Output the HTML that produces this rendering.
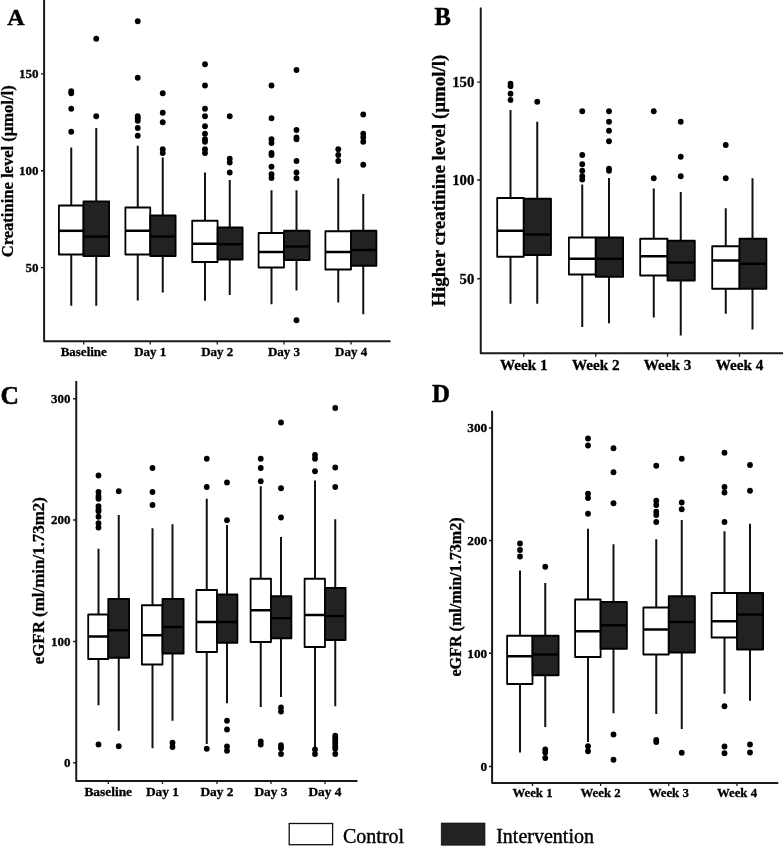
<!DOCTYPE html>
<html lang="en"><head><meta charset="utf-8"><title>Figure</title>
<style>
html,body{margin:0;padding:0;background:#fff;}
body{width:783px;height:847px;overflow:hidden;}
svg{display:block;}
text{font-family:"Liberation Serif","Times New Roman",Times,serif;fill:#000;}
.b{stroke:#000;stroke-width:0.3px;}
.b{font-weight:bold;}
.ax{stroke:#1a1a1a;stroke-width:2.0;fill:none;stroke-linecap:butt;}
.wh{stroke:#111;stroke-width:2.0;fill:none;}
.bx{stroke:#000;stroke-width:1.8;stroke-linejoin:round;}
.md{stroke:#000;stroke-width:2.5;}
.pt{fill:#000;}
</style></head><body>
<svg width="783" height="847" viewBox="0 0 783 847">
<rect width="783" height="847" fill="#fff"/>

<g id="panelA">
<path class="ax" d="M44.1 0V341.3H390.5" style="stroke-linejoin:round"/>
<path class="ax" d="M41 73.8H44.1M41 170.75H44.1M41 267.6H44.1M83.75 341.3V344.4M150.25 341.3V344.4M217.25 341.3V344.4M284 341.3V344.4M351.1 341.3V344.4" style="stroke-width:1.3"/>
<text class="b" x="38.6" y="78.16" font-size="13" text-anchor="end">150</text>
<text class="b" x="38.6" y="175.1" font-size="13" text-anchor="end">100</text>
<text class="b" x="38.6" y="271.96" font-size="13" text-anchor="end">50</text>
<text class="b" x="83.75" y="356.3" font-size="13" text-anchor="middle">Baseline</text>
<text class="b" x="150.25" y="356.3" font-size="13" text-anchor="middle">Day 1</text>
<text class="b" x="217.25" y="356.3" font-size="13" text-anchor="middle">Day 2</text>
<text class="b" x="284" y="356.3" font-size="13" text-anchor="middle">Day 3</text>
<text class="b" x="351.1" y="356.3" font-size="13" text-anchor="middle">Day 4</text>
<text class="b" font-size="16.5" text-anchor="middle" transform="translate(12.7 171.3) rotate(-90) scale(1.004 1)">Creatinine level (µmol/l)</text>
<text class="b" x="7.2" y="24.9" font-size="24" style="stroke-width:0.5px">A</text>
<path class="wh" d="M71.25 147.5V205.5M71.25 254.5V305.75"/>
<rect class="bx" x="58.9" y="205.5" width="24.6" height="49" fill="#fff"/>
<path class="md" d="M58.9 230.8H83.5"/>
<circle class="pt" cx="71.25" cy="91.25" r="2.9"/>
<circle class="pt" cx="71.25" cy="93.25" r="2.9"/>
<circle class="pt" cx="71.25" cy="108.75" r="2.9"/>
<circle class="pt" cx="71.25" cy="131.75" r="2.9"/>
<path class="wh" d="M96.25 128V201.3M96.25 256.2V305.75"/>
<rect class="bx" x="83.5" y="201.3" width="25.6" height="54.9" fill="#222222"/>
<path class="md" d="M83.5 236.6H109.1"/>
<circle class="pt" cx="96.25" cy="38.75" r="2.9"/>
<circle class="pt" cx="96.25" cy="116.25" r="2.9"/>
<path class="wh" d="M137.75 145.75V207.5M137.75 254.5V300.5"/>
<rect class="bx" x="125.4" y="207.5" width="24.85" height="47" fill="#fff"/>
<path class="md" d="M125.4 230.75H150.25"/>
<circle class="pt" cx="137.75" cy="21.25" r="2.9"/>
<circle class="pt" cx="137.75" cy="77.75" r="2.9"/>
<circle class="pt" cx="137.75" cy="116.25" r="2.9"/>
<circle class="pt" cx="137.75" cy="118.25" r="2.9"/>
<circle class="pt" cx="137.75" cy="120.75" r="2.9"/>
<circle class="pt" cx="137.75" cy="128" r="2.9"/>
<circle class="pt" cx="137.75" cy="135.75" r="2.9"/>
<path class="wh" d="M162.75 157.5V215.5M162.75 256V292.5"/>
<rect class="bx" x="150.25" y="215.5" width="25.35" height="40.5" fill="#222222"/>
<path class="md" d="M150.25 236.5H175.6"/>
<circle class="pt" cx="162.75" cy="93.25" r="2.9"/>
<circle class="pt" cx="162.75" cy="112.75" r="2.9"/>
<circle class="pt" cx="162.75" cy="122.25" r="2.9"/>
<circle class="pt" cx="162.75" cy="149.25" r="2.9"/>
<circle class="pt" cx="162.75" cy="153" r="2.9"/>
<path class="wh" d="M205 172.5V220.75M205 262V300.75"/>
<rect class="bx" x="192.2" y="220.75" width="25.4" height="41.25" fill="#fff"/>
<path class="md" d="M192.2 243.75H217.6"/>
<circle class="pt" cx="205" cy="64.25" r="2.9"/>
<circle class="pt" cx="205" cy="85.5" r="2.9"/>
<circle class="pt" cx="205" cy="108.75" r="2.9"/>
<circle class="pt" cx="205" cy="116.25" r="2.9"/>
<circle class="pt" cx="205" cy="126.25" r="2.9"/>
<circle class="pt" cx="205" cy="133.75" r="2.9"/>
<circle class="pt" cx="205" cy="139.25" r="2.9"/>
<circle class="pt" cx="205" cy="141.75" r="2.9"/>
<circle class="pt" cx="205" cy="149.25" r="2.9"/>
<circle class="pt" cx="205" cy="153" r="2.9"/>
<path class="wh" d="M229.75 180V227.5M229.75 259.5V295"/>
<rect class="bx" x="217.6" y="227.5" width="25" height="32" fill="#222222"/>
<path class="md" d="M217.6 244.25H242.6"/>
<circle class="pt" cx="229.75" cy="116.25" r="2.9"/>
<circle class="pt" cx="229.75" cy="158.75" r="2.9"/>
<circle class="pt" cx="229.75" cy="162.5" r="2.9"/>
<circle class="pt" cx="229.75" cy="172.5" r="2.9"/>
<path class="wh" d="M271.5 190.25V233M271.5 267.5V304.25"/>
<rect class="bx" x="258.6" y="233" width="25.4" height="34.5" fill="#fff"/>
<path class="md" d="M258.6 252H284"/>
<circle class="pt" cx="271.5" cy="85.5" r="2.9"/>
<circle class="pt" cx="271.5" cy="118.25" r="2.9"/>
<circle class="pt" cx="271.5" cy="139.25" r="2.9"/>
<circle class="pt" cx="271.5" cy="143" r="2.9"/>
<circle class="pt" cx="271.5" cy="153" r="2.9"/>
<circle class="pt" cx="271.5" cy="155" r="2.9"/>
<circle class="pt" cx="271.5" cy="166.75" r="2.9"/>
<circle class="pt" cx="271.5" cy="174.25" r="2.9"/>
<circle class="pt" cx="271.5" cy="178" r="2.9"/>
<path class="wh" d="M296.5 190.25V230.75M296.5 260V290.5"/>
<rect class="bx" x="284" y="230.75" width="25.6" height="29.25" fill="#222222"/>
<path class="md" d="M284 246.5H309.6"/>
<circle class="pt" cx="296.5" cy="70" r="2.9"/>
<circle class="pt" cx="296.5" cy="130" r="2.9"/>
<circle class="pt" cx="296.5" cy="137.5" r="2.9"/>
<circle class="pt" cx="296.5" cy="139.25" r="2.9"/>
<circle class="pt" cx="296.5" cy="161" r="2.9"/>
<circle class="pt" cx="296.5" cy="172.5" r="2.9"/>
<circle class="pt" cx="296.5" cy="178.25" r="2.9"/>
<circle class="pt" cx="296.5" cy="320.25" r="2.9"/>
<path class="wh" d="M338.25 178.25V231.25M338.25 269.5V302.5"/>
<rect class="bx" x="325.4" y="231.25" width="25.6" height="38.25" fill="#fff"/>
<path class="md" d="M325.4 252H351"/>
<circle class="pt" cx="338.25" cy="149.25" r="2.9"/>
<circle class="pt" cx="338.25" cy="155" r="2.9"/>
<circle class="pt" cx="338.25" cy="161" r="2.9"/>
<path class="wh" d="M363.25 194V230.75M363.25 265.75V314.25"/>
<rect class="bx" x="351" y="230.75" width="25.4" height="35" fill="#222222"/>
<path class="md" d="M351 250H376.4"/>
<circle class="pt" cx="363.25" cy="114.5" r="2.9"/>
<circle class="pt" cx="363.25" cy="133.75" r="2.9"/>
<circle class="pt" cx="363.25" cy="137.5" r="2.9"/>
<circle class="pt" cx="363.25" cy="141.75" r="2.9"/>
<circle class="pt" cx="363.25" cy="164.75" r="2.9"/>
</g>
<g id="panelB">
<path class="ax" d="M480.75 7.5V353.2H783" style="stroke-linejoin:round"/>
<path class="ax" d="M477.25 82.1H480.75M477.25 180H480.75M477.25 278.75H480.75M523.75 353.2V356.7M595.75 353.2V356.7M667.5 353.2V356.7M739.5 353.2V356.7" style="stroke-width:1.3"/>
<text class="b" x="474.3" y="87.02" font-size="14.7" text-anchor="end">150</text>
<text class="b" x="474.3" y="184.92" font-size="14.7" text-anchor="end">100</text>
<text class="b" x="474.3" y="283.67" font-size="14.7" text-anchor="end">50</text>
<text class="b" x="523.75" y="370.3" font-size="15.2" text-anchor="middle">Week 1</text>
<text class="b" x="595.75" y="370.3" font-size="15.2" text-anchor="middle">Week 2</text>
<text class="b" x="667.5" y="370.3" font-size="15.2" text-anchor="middle">Week 3</text>
<text class="b" x="739.5" y="370.3" font-size="15.2" text-anchor="middle">Week 4</text>
<text class="b" font-size="18" text-anchor="middle" transform="translate(444.5 180.65) rotate(-90) scale(1.049 1)">Higher creatinine level (µmol/l)</text>
<text class="b" x="434.4" y="24.8" font-size="24.5" style="stroke-width:0.5px">B</text>
<path class="wh" d="M510.5 110V198M510.5 256.75V303.75"/>
<rect class="bx" x="497.2" y="198" width="26.55" height="58.75" fill="#fff"/>
<path class="md" d="M497.2 230.75H523.75"/>
<circle class="pt" cx="510.5" cy="83.75" r="2.9"/>
<circle class="pt" cx="510.5" cy="86.25" r="2.9"/>
<circle class="pt" cx="510.5" cy="93.75" r="2.9"/>
<circle class="pt" cx="510.5" cy="100" r="2.9"/>
<path class="wh" d="M537.25 121.75V198.75M537.25 255V303.75"/>
<rect class="bx" x="523.75" y="198.75" width="27.25" height="56.25" fill="#222222"/>
<path class="md" d="M523.75 234.5H551"/>
<circle class="pt" cx="537.25" cy="101.75" r="2.9"/>
<path class="wh" d="M582.25 184.5V237.5M582.25 274.5V327"/>
<rect class="bx" x="568.9" y="237.5" width="26.85" height="37" fill="#fff"/>
<path class="md" d="M568.9 258.75H595.75"/>
<circle class="pt" cx="582.25" cy="111.25" r="2.9"/>
<circle class="pt" cx="582.25" cy="155" r="2.9"/>
<circle class="pt" cx="582.25" cy="164.25" r="2.9"/>
<circle class="pt" cx="582.25" cy="170.75" r="2.9"/>
<circle class="pt" cx="582.25" cy="176.25" r="2.9"/>
<circle class="pt" cx="582.25" cy="179.5" r="2.9"/>
<path class="wh" d="M609 178V237.5M609 276.75V323.25"/>
<rect class="bx" x="595.75" y="237.5" width="27.35" height="39.25" fill="#222222"/>
<path class="md" d="M595.75 258.75H623.1"/>
<circle class="pt" cx="609" cy="111.25" r="2.9"/>
<circle class="pt" cx="609" cy="121.75" r="2.9"/>
<circle class="pt" cx="609" cy="130.75" r="2.9"/>
<circle class="pt" cx="609" cy="141.25" r="2.9"/>
<circle class="pt" cx="609" cy="168.75" r="2.9"/>
<circle class="pt" cx="609" cy="170.75" r="2.9"/>
<path class="wh" d="M653.75 188.5V238.75M653.75 275.5V317.5"/>
<rect class="bx" x="640.2" y="238.75" width="27.3" height="36.75" fill="#fff"/>
<path class="md" d="M640.2 256.25H667.5"/>
<circle class="pt" cx="653.75" cy="111.25" r="2.9"/>
<circle class="pt" cx="653.75" cy="178.25" r="2.9"/>
<path class="wh" d="M680.75 192V240.75M680.75 280.5V335.5"/>
<rect class="bx" x="667.5" y="240.75" width="27.3" height="39.75" fill="#222222"/>
<path class="md" d="M667.5 262.5H694.8"/>
<circle class="pt" cx="680.75" cy="121.75" r="2.9"/>
<circle class="pt" cx="680.75" cy="156.75" r="2.9"/>
<circle class="pt" cx="680.75" cy="176.25" r="2.9"/>
<path class="wh" d="M725.75 208.25V246.25M725.75 288.75V313.75"/>
<rect class="bx" x="712.2" y="246.25" width="27.3" height="42.5" fill="#fff"/>
<path class="md" d="M712.2 260.5H739.5"/>
<circle class="pt" cx="725.75" cy="145" r="2.9"/>
<circle class="pt" cx="725.75" cy="178.25" r="2.9"/>
<path class="wh" d="M752.5 178.25V238.75M752.5 288.75V329.5"/>
<rect class="bx" x="739.5" y="238.75" width="26.9" height="50" fill="#222222"/>
<path class="md" d="M739.5 263.75H766.4"/>
</g>
<g id="panelC">
<path class="ax" d="M76.25 381V780.9H357.5" style="stroke-linejoin:round"/>
<path class="ax" d="M73.15 398.75H76.25M73.15 520H76.25M73.15 641.5H76.25M73.15 762.75H76.25M108.25 780.9V784M162.5 780.9V784M217 780.9V784M271 780.9V784M325 780.9V784" style="stroke-width:1.3"/>
<text class="b" x="70.6" y="403.11" font-size="13" text-anchor="end">300</text>
<text class="b" x="70.6" y="524.36" font-size="13" text-anchor="end">200</text>
<text class="b" x="70.6" y="645.86" font-size="13" text-anchor="end">100</text>
<text class="b" x="70.6" y="767.11" font-size="13" text-anchor="end">0</text>
<text class="b" x="108.25" y="795.9" font-size="13.4" text-anchor="middle">Baseline</text>
<text class="b" x="162.5" y="795.9" font-size="13.4" text-anchor="middle">Day 1</text>
<text class="b" x="217" y="795.9" font-size="13.4" text-anchor="middle">Day 2</text>
<text class="b" x="271" y="795.9" font-size="13.4" text-anchor="middle">Day 3</text>
<text class="b" x="325" y="795.9" font-size="13.4" text-anchor="middle">Day 4</text>
<text class="b" font-size="16.2" text-anchor="middle" transform="translate(43.7 580.75) rotate(-90) scale(1.045 1)">eGFR (ml/min/1.73m2)</text>
<text class="b" x="0.4" y="404.4" font-size="25.5" style="stroke-width:0.5px">C</text>
<path class="wh" d="M98.5 548.75V614.5M98.5 659V705.25"/>
<rect class="bx" x="88.2" y="614.5" width="20.05" height="44.5" fill="#fff"/>
<path class="md" d="M88.2 636.5H108.25"/>
<circle class="pt" cx="98.5" cy="475.5" r="2.9"/>
<circle class="pt" cx="98.5" cy="492" r="2.9"/>
<circle class="pt" cx="98.5" cy="496.25" r="2.9"/>
<circle class="pt" cx="98.5" cy="498.75" r="2.9"/>
<circle class="pt" cx="98.5" cy="506.25" r="2.9"/>
<circle class="pt" cx="98.5" cy="509.25" r="2.9"/>
<circle class="pt" cx="98.5" cy="511.25" r="2.9"/>
<circle class="pt" cx="98.5" cy="516.75" r="2.9"/>
<circle class="pt" cx="98.5" cy="523.25" r="2.9"/>
<circle class="pt" cx="98.5" cy="527.5" r="2.9"/>
<circle class="pt" cx="98.5" cy="744.5" r="2.9"/>
<path class="wh" d="M118.75 515V599M118.75 657.75V730.75"/>
<rect class="bx" x="108.25" y="599" width="20.85" height="58.75" fill="#222222"/>
<path class="md" d="M108.25 630.25H129.1"/>
<circle class="pt" cx="118.75" cy="491.25" r="2.9"/>
<circle class="pt" cx="118.75" cy="746.25" r="2.9"/>
<path class="wh" d="M152.5 528.25V605.25M152.5 664.5V748.25"/>
<rect class="bx" x="141.9" y="605.25" width="20.6" height="59.25" fill="#fff"/>
<path class="md" d="M141.9 635.25H162.5"/>
<circle class="pt" cx="152.5" cy="468" r="2.9"/>
<circle class="pt" cx="152.5" cy="492" r="2.9"/>
<circle class="pt" cx="152.5" cy="505" r="2.9"/>
<path class="wh" d="M172.5 524.25V599M172.5 653.5V720.75"/>
<rect class="bx" x="162.5" y="599" width="21.1" height="54.5" fill="#222222"/>
<path class="md" d="M162.5 627H183.6"/>
<circle class="pt" cx="172.5" cy="742.75" r="2.9"/>
<circle class="pt" cx="172.5" cy="747" r="2.9"/>
<path class="wh" d="M206.75 498.75V590M206.75 652V744"/>
<rect class="bx" x="196.4" y="590" width="20.6" height="62" fill="#fff"/>
<path class="md" d="M196.4 622H217"/>
<circle class="pt" cx="206.75" cy="458.75" r="2.9"/>
<circle class="pt" cx="206.75" cy="487" r="2.9"/>
<circle class="pt" cx="206.75" cy="748.75" r="2.9"/>
<path class="wh" d="M227 525V594.5M227 642.75V703.25"/>
<rect class="bx" x="217" y="594.5" width="20.4" height="48.25" fill="#222222"/>
<path class="md" d="M217 622H237.4"/>
<circle class="pt" cx="227" cy="482.5" r="2.9"/>
<circle class="pt" cx="227" cy="520.25" r="2.9"/>
<circle class="pt" cx="227" cy="720.75" r="2.9"/>
<circle class="pt" cx="227" cy="729.5" r="2.9"/>
<circle class="pt" cx="227" cy="746.5" r="2.9"/>
<circle class="pt" cx="227" cy="750.75" r="2.9"/>
<path class="wh" d="M260.75 486.25V578.75M260.75 642V707"/>
<rect class="bx" x="250.6" y="578.75" width="20.4" height="63.25" fill="#fff"/>
<path class="md" d="M250.6 610.25H271"/>
<circle class="pt" cx="260.75" cy="458.75" r="2.9"/>
<circle class="pt" cx="260.75" cy="468" r="2.9"/>
<circle class="pt" cx="260.75" cy="481.25" r="2.9"/>
<circle class="pt" cx="260.75" cy="741.5" r="2.9"/>
<circle class="pt" cx="260.75" cy="744.5" r="2.9"/>
<path class="wh" d="M281 537V596.25M281 638.25V697"/>
<rect class="bx" x="271" y="596.25" width="20.4" height="42" fill="#222222"/>
<path class="md" d="M271 618.25H291.4"/>
<circle class="pt" cx="281" cy="422.5" r="2.9"/>
<circle class="pt" cx="281" cy="488.25" r="2.9"/>
<circle class="pt" cx="281" cy="517.5" r="2.9"/>
<circle class="pt" cx="281" cy="707.5" r="2.9"/>
<circle class="pt" cx="281" cy="711.5" r="2.9"/>
<circle class="pt" cx="281" cy="745.25" r="2.9"/>
<circle class="pt" cx="281" cy="748.25" r="2.9"/>
<circle class="pt" cx="281" cy="754" r="2.9"/>
<path class="wh" d="M315 480.5V578.75M315 647V747"/>
<rect class="bx" x="304.6" y="578.75" width="20.4" height="68.25" fill="#fff"/>
<path class="md" d="M304.6 615H325"/>
<circle class="pt" cx="315" cy="455" r="2.9"/>
<circle class="pt" cx="315" cy="458.75" r="2.9"/>
<circle class="pt" cx="315" cy="471.25" r="2.9"/>
<circle class="pt" cx="315" cy="749.5" r="2.9"/>
<circle class="pt" cx="315" cy="754" r="2.9"/>
<path class="wh" d="M335.25 519.25V588M335.25 640V706.25"/>
<rect class="bx" x="325" y="588" width="20.6" height="52" fill="#222222"/>
<path class="md" d="M325 616H345.6"/>
<circle class="pt" cx="335.25" cy="408" r="2.9"/>
<circle class="pt" cx="335.25" cy="467.5" r="2.9"/>
<circle class="pt" cx="335.25" cy="487" r="2.9"/>
<circle class="pt" cx="335.25" cy="735.75" r="2.9"/>
<circle class="pt" cx="335.25" cy="738.25" r="2.9"/>
<circle class="pt" cx="335.25" cy="740.75" r="2.9"/>
<circle class="pt" cx="335.25" cy="743.25" r="2.9"/>
<circle class="pt" cx="335.25" cy="746.25" r="2.9"/>
<circle class="pt" cx="335.25" cy="748.75" r="2.9"/>
<circle class="pt" cx="335.25" cy="754" r="2.9"/>
</g>
<g id="panelD">
<path class="ax" d="M492.1 410.75V782.9H778.25" style="stroke-linejoin:round"/>
<path class="ax" d="M489 428H492.1M489 540.5H492.1M489 653.25H492.1M489 766.5H492.1M532.5 782.9V786M600.6 782.9V786M668.75 782.9V786M737 782.9V786" style="stroke-width:1.3"/>
<text class="b" x="487.2" y="432.46" font-size="13.3" text-anchor="end">300</text>
<text class="b" x="487.2" y="544.96" font-size="13.3" text-anchor="end">200</text>
<text class="b" x="487.2" y="657.71" font-size="13.3" text-anchor="end">100</text>
<text class="b" x="487.2" y="770.96" font-size="13.3" text-anchor="end">0</text>
<text class="b" x="532.5" y="797.4" font-size="12.8" text-anchor="middle">Week 1</text>
<text class="b" x="600.6" y="797.4" font-size="12.8" text-anchor="middle">Week 2</text>
<text class="b" x="668.75" y="797.4" font-size="12.8" text-anchor="middle">Week 3</text>
<text class="b" x="737" y="797.4" font-size="12.8" text-anchor="middle">Week 4</text>
<text class="b" font-size="16.1" text-anchor="middle" transform="translate(460.6 597) rotate(-90) scale(1.0 1)">eGFR (ml/min/1.73m2)</text>
<text class="b" x="432" y="401.7" font-size="24.8" style="stroke-width:0.5px">D</text>
<path class="wh" d="M520 570.5V635.75M520 684V752.5"/>
<rect class="bx" x="507.1" y="635.75" width="25.4" height="48.25" fill="#fff"/>
<path class="md" d="M507.1 656.25H532.5"/>
<circle class="pt" cx="520" cy="543.5" r="2.9"/>
<circle class="pt" cx="520" cy="550" r="2.9"/>
<circle class="pt" cx="520" cy="556.5" r="2.9"/>
<path class="wh" d="M545.25 583V635.75M545.25 675.25V727"/>
<rect class="bx" x="532.5" y="635.75" width="26.1" height="39.5" fill="#222222"/>
<path class="md" d="M532.5 654.5H558.6"/>
<circle class="pt" cx="545.25" cy="566.75" r="2.9"/>
<circle class="pt" cx="545.25" cy="749.5" r="2.9"/>
<circle class="pt" cx="545.25" cy="752.5" r="2.9"/>
<circle class="pt" cx="545.25" cy="758" r="2.9"/>
<path class="wh" d="M588 528.75V599.5M588 657V742"/>
<rect class="bx" x="575.1" y="599.5" width="25.5" height="57.5" fill="#fff"/>
<path class="md" d="M575.1 631.25H600.6"/>
<circle class="pt" cx="588" cy="438.5" r="2.9"/>
<circle class="pt" cx="588" cy="445.5" r="2.9"/>
<circle class="pt" cx="588" cy="493.75" r="2.9"/>
<circle class="pt" cx="588" cy="498" r="2.9"/>
<circle class="pt" cx="588" cy="513.75" r="2.9"/>
<circle class="pt" cx="588" cy="746.25" r="2.9"/>
<circle class="pt" cx="588" cy="751.25" r="2.9"/>
<path class="wh" d="M613.5 544.25V602M613.5 648.75V713.25"/>
<rect class="bx" x="600.6" y="602" width="26.3" height="46.75" fill="#222222"/>
<path class="md" d="M600.6 625.25H626.9"/>
<circle class="pt" cx="613.5" cy="448.25" r="2.9"/>
<circle class="pt" cx="613.5" cy="472.25" r="2.9"/>
<circle class="pt" cx="613.5" cy="503.25" r="2.9"/>
<circle class="pt" cx="613.5" cy="734.5" r="2.9"/>
<circle class="pt" cx="613.5" cy="759.75" r="2.9"/>
<path class="wh" d="M656.25 539.25V607.5M656.25 654.5V714"/>
<rect class="bx" x="643.4" y="607.5" width="25.35" height="47" fill="#fff"/>
<path class="md" d="M643.4 629.5H668.75"/>
<circle class="pt" cx="656.25" cy="465.75" r="2.9"/>
<circle class="pt" cx="656.25" cy="500.75" r="2.9"/>
<circle class="pt" cx="656.25" cy="505" r="2.9"/>
<circle class="pt" cx="656.25" cy="511.75" r="2.9"/>
<circle class="pt" cx="656.25" cy="515" r="2.9"/>
<circle class="pt" cx="656.25" cy="522" r="2.9"/>
<circle class="pt" cx="656.25" cy="740" r="2.9"/>
<circle class="pt" cx="656.25" cy="742" r="2.9"/>
<path class="wh" d="M681.75 520V596.25M681.75 652.5V729"/>
<rect class="bx" x="668.75" y="596.25" width="26.15" height="56.25" fill="#222222"/>
<path class="md" d="M668.75 622H694.9"/>
<circle class="pt" cx="681.75" cy="458.75" r="2.9"/>
<circle class="pt" cx="681.75" cy="502.5" r="2.9"/>
<circle class="pt" cx="681.75" cy="509.25" r="2.9"/>
<circle class="pt" cx="681.75" cy="752.75" r="2.9"/>
<path class="wh" d="M724.5 531.25V593M724.5 637.5V693.75"/>
<rect class="bx" x="711.6" y="593" width="25.4" height="44.5" fill="#fff"/>
<path class="md" d="M711.6 621.25H737"/>
<circle class="pt" cx="724.5" cy="452.75" r="2.9"/>
<circle class="pt" cx="724.5" cy="487" r="2.9"/>
<circle class="pt" cx="724.5" cy="492.5" r="2.9"/>
<circle class="pt" cx="724.5" cy="522" r="2.9"/>
<circle class="pt" cx="724.5" cy="706.25" r="2.9"/>
<circle class="pt" cx="724.5" cy="746.5" r="2.9"/>
<circle class="pt" cx="724.5" cy="753.25" r="2.9"/>
<path class="wh" d="M750 523.75V593M750 649.5V700.75"/>
<rect class="bx" x="737" y="593" width="26.1" height="56.5" fill="#222222"/>
<path class="md" d="M737 614.5H763.1"/>
<circle class="pt" cx="750" cy="465" r="2.9"/>
<circle class="pt" cx="750" cy="490.75" r="2.9"/>
<circle class="pt" cx="750" cy="744.5" r="2.9"/>
<circle class="pt" cx="750" cy="752.5" r="2.9"/>
</g>
<g id="legend">
<rect x="289.2" y="823.5" width="43.4" height="21.2" fill="#fff" stroke="#111" stroke-width="1.3"/>
<text x="343" y="843.2" font-size="20" stroke="#000" stroke-width="0.4">Control</text>
<rect x="441.2" y="823" width="43.8" height="22.2" fill="#222222" stroke="#000" stroke-width="0.6"/>
<text x="496.2" y="843.2" font-size="20" stroke="#000" stroke-width="0.4">Intervention</text>
</g>
</svg></body></html>
